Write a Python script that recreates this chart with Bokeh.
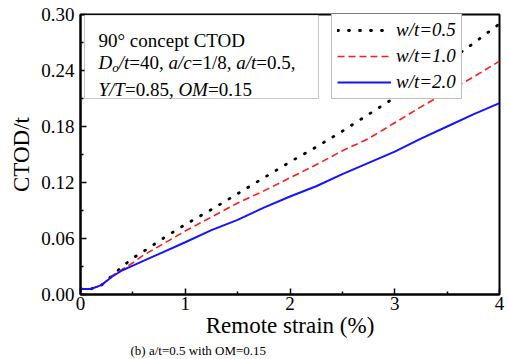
from bokeh.plotting import figure
from bokeh.models import (Range1d, FixedTicker, PrintfTickFormatter, Label,
                          BoxAnnotation, Title)
from bokeh.embed import file_html
from bokeh.resources import INLINE

# ---------------- data ----------------
strain = [0.0, 0.1, 0.2, 0.3, 0.4, 0.5, 0.6, 0.8, 1.0, 1.25, 1.5, 1.75,
          2.0, 2.25, 2.5, 2.75, 3.0, 3.25, 3.5, 3.75, 4.0]
ctod_w05 = [0.006, 0.006, 0.010, 0.020, 0.030, 0.039, 0.046, 0.061, 0.075,
            0.091, 0.108, 0.125, 0.142, 0.158, 0.175, 0.193, 0.211, 0.229,
            0.249, 0.269, 0.290]
ctod_w10 = [0.006, 0.006, 0.010, 0.020, 0.027, 0.034, 0.042, 0.055, 0.068,
            0.083, 0.098, 0.111, 0.125, 0.139, 0.154, 0.167, 0.184, 0.201,
            0.217, 0.233, 0.250]
ctod_w20 = [0.006, 0.006, 0.010, 0.019, 0.026, 0.031, 0.036, 0.046, 0.056,
            0.069, 0.080, 0.093, 0.105, 0.116, 0.129, 0.141, 0.153, 0.167,
            0.180, 0.193, 0.205]
series_labels = ["w/t=0.5", "w/t=1.0", "w/t=2.0"]
x_ticks = [0, 1, 2, 3, 4]
x_minor = [0.5, 1.5, 2.5, 3.5]
y_ticks = [0.0, 0.06, 0.12, 0.18, 0.24, 0.30]
y_minor = [0.03, 0.09, 0.15, 0.21, 0.27]
x_label = "Remote strain (%)"
y_label = "CTOD/t"
caption_text = "(b) a/t=0.5 with OM=0.15"

FONT = "Liberation Serif"
W, H = 508, 359
FL, FR, FT, FB = 80, 499, 14, 294
XMAX, YMAX = 4.0, 0.30

p = figure(width=W, height=H, x_range=Range1d(0, XMAX), y_range=Range1d(0, YMAX),
           output_backend="svg", toolbar_location=None,
           min_border_left=FL, min_border_right=W - FR,
           min_border_top=FT, min_border_bottom=H - FB)
p.background_fill_color = "white"
p.border_fill_color = "white"
p.outline_line_color = "black"
p.outline_line_width = 2
p.xgrid.visible = False
p.ygrid.visible = False

for ax in (p.xaxis[0], p.yaxis[0]):
    ax.axis_line_width = 2
    ax.axis_line_color = "black"
    ax.major_tick_in = 6
    ax.major_tick_out = 0
    ax.minor_tick_in = 3
    ax.minor_tick_out = 0
    ax.major_tick_line_width = 1.5
    ax.minor_tick_line_width = 1.5
    ax.major_tick_line_color = "black"
    ax.minor_tick_line_color = "black"
    ax.major_label_text_font = FONT
    ax.major_label_text_font_size = "19px"
    ax.major_label_text_color = "black"
    ax.major_label_text_font_style = "normal"
    ax.axis_label_text_font = FONT
    ax.axis_label_text_font_size = "23px"
    ax.axis_label_text_font_style = "normal"
    ax.axis_label_text_color = "black"

p.xaxis.ticker = FixedTicker(ticks=x_ticks, minor_ticks=x_minor)
p.yaxis.ticker = FixedTicker(ticks=y_ticks, minor_ticks=y_minor)
p.yaxis.formatter = PrintfTickFormatter(format="%.2f")
p.xaxis.axis_label = x_label
p.yaxis.axis_label = y_label
p.xaxis.major_label_standoff = 2
p.yaxis.major_label_standoff = 6
p.xaxis.axis_label_standoff = 0
p.yaxis.axis_label_standoff = 4

# figure caption below the axis label
cap = Title(text=caption_text, align="left", offset=50, standoff=0,
            text_font=FONT, text_font_size="13px", text_font_style="normal",
            text_color="black")
p.add_layout(cap, "below")


def dx(px):
    return (px - FL) / (FR - FL) * XMAX


def dy(py):
    return (FB - py) / (FB - FT) * YMAX


# info box
p.add_layout(BoxAnnotation(left=dx(84), right=dx(318), top=dy(14.5), bottom=dy(98),
                           fill_color="white", fill_alpha=1.0,
                           line_color="#444444", line_width=1, level="overlay"))

# curves
p.line(strain, ctod_w05, color="black", line_width=2.8, line_dash="1 10",
       line_cap="round", legend_label=series_labels[0])
p.line(strain, ctod_w10, color="#ff1a1a", line_width=1.6, line_dash="7 4",
       legend_label=series_labels[1])
p.line(strain, ctod_w20, color="#1414ff", line_width=2.0,
       legend_label=series_labels[2])

lg = p.legend[0]
lg.location = (251, 195)
lg.margin = 0
lg.padding = 5
lg.spacing = 4
lg.glyph_width = 54
lg.glyph_height = 18
lg.label_height = 18
lg.label_standoff = 5
lg.label_text_font = FONT
lg.label_text_font_size = "19px"
lg.label_text_font_style = "italic"
lg.label_text_color = "black"
lg.border_line_color = "#808080"
lg.border_line_width = 1
lg.background_fill_color = "white"
lg.background_fill_alpha = 1.0

# Times / Liberation Serif advance widths (per 1000 em)
ROMAN = {' ': 250, '(': 333, ')': 333, '%': 833, ',': 250, '.': 250, '/': 278,
         '=': 564, '°': 400, 'a': 444, 'b': 500, 'c': 444, 'd': 500, 'e': 444,
         'h': 500, 'i': 278, 'n': 500, 'o': 500, 'p': 500, 'r': 333, 's': 389,
         't': 278, 'w': 722, 'C': 667, 'D': 722, 'M': 889, 'O': 722, 'T': 611,
         'Y': 722}
ITALIC = {'a': 500, 'c': 444, 'o': 500, 't': 278, 'w': 667, '/': 278,
          'D': 722, 'M': 833, 'O': 722, 'T': 556, 'Y': 556, '=': 675}


def text_width(text, style, size):
    table = ITALIC if style == "italic" else ROMAN
    return sum(table.get(ch, 500) for ch in text) * size / 1000.0


def place(segments, x0, base, size):
    x = x0
    for seg in segments:
        text, style = seg[0], seg[1]
        s = seg[2] if len(seg) > 2 else size
        shift = seg[3] if len(seg) > 3 else 0
        p.add_layout(Label(x=dx(x), y=dy(base + shift), text=text,
                           text_font=FONT, text_font_size=f"{s}px",
                           text_font_style=style, text_color="black",
                           text_baseline="alphabetic", text_align="left",
                           level="overlay"))
        x += text_width(text, style, s)


info_line1 = [("90° concept CTOD", "normal")]
info_line2 = [("D", "italic"), ("o", "italic", 13, 5), ("/t", "italic"),
              ("=40, ", "normal"), ("a/c", "italic"), ("=1/8, ", "normal"),
              ("a/t", "italic"), ("=0.5,", "normal")]
info_line3 = [("Y/T", "italic"), ("=0.85, ", "normal"), ("OM", "italic"),
              ("=0.15", "normal")]
place(info_line1, 98, 40, 19)
place(info_line2, 98, 62, 19)
place(info_line3, 98, 89, 19)

open("out.html", "w").write(file_html(p, INLINE))
